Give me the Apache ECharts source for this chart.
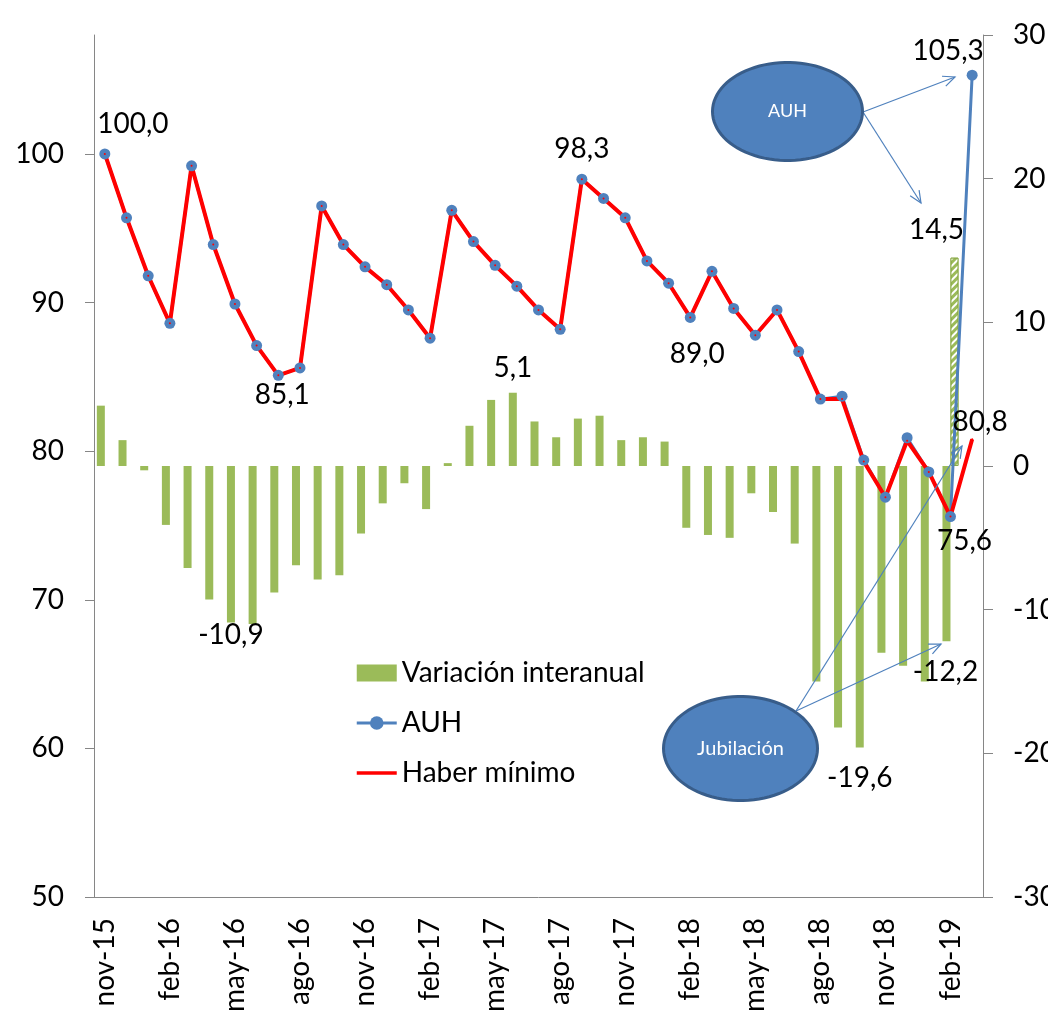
<!DOCTYPE html>
<html>
<head>
<meta charset="utf-8">
<script src="https://cdn.jsdelivr.net/npm/echarts@6/dist/echarts.min.js"></script>
<style>
html, body { margin: 0; padding: 0; background: #fff; }
#chart { width: 1048px; height: 1015px; }
</style>
</head>
<body>
<div id="chart"></div>
<script>
const categories = [
    'nov-15', 'dic-15',
    'ene-16', 'feb-16', 'mar-16', 'abr-16', 'may-16', 'jun-16', 'jul-16', 'ago-16', 'sep-16', 'oct-16', 'nov-16', 'dic-16',
    'ene-17', 'feb-17', 'mar-17', 'abr-17', 'may-17', 'jun-17', 'jul-17', 'ago-17', 'sep-17', 'oct-17', 'nov-17', 'dic-17',
    'ene-18', 'feb-18', 'mar-18', 'abr-18', 'may-18', 'jun-18', 'jul-18', 'ago-18', 'sep-18', 'oct-18', 'nov-18', 'dic-18',
    'ene-19', 'feb-19', 'mar-19'
];

const auh = [
    100.0, 95.7,
    91.8, 88.6, 99.2, 93.9, 89.9, 87.1, 85.1, 85.6, 96.5, 93.9, 92.4, 91.2,
    89.5, 87.6, 96.2, 94.1, 92.5, 91.1, 89.5, 88.2, 98.3, 97.0, 95.7, 92.8,
    91.3, 89.0, 92.1, 89.6, 87.8, 89.5, 86.7, 83.5, 83.7, 79.4, 76.9, 80.9,
    78.6, 75.6, 105.3
];

const haberMinimo = [
    100.0, 95.7,
    91.8, 88.6, 99.2, 93.9, 89.9, 87.1, 85.1, 85.6, 96.5, 93.9, 92.4, 91.2,
    89.5, 87.6, 96.2, 94.1, 92.5, 91.1, 89.5, 88.2, 98.3, 97.0, 95.7, 92.8,
    91.3, 89.0, 92.1, 89.6, 87.8, 89.5, 86.7, 83.5, 83.5, 79.3, 76.9, 80.7,
    78.6, 75.6, 80.8
];

// variación interanual (eje derecho)
const variacion = [
    4.2, 1.8,
    -0.3, -4.1, -7.1, -9.3, -10.9, -11.0, -8.8, -6.9, -7.9, -7.6, -4.7, -2.6,
    -1.2, -3.0, 0.2, 2.8, 4.6, 5.1, 3.1, 2.0, 3.3, 3.5, 1.8, 2.0,
    1.7, -4.3, -4.8, -5.0, -1.9, -3.2, -5.4, -15.0, -18.2, -19.6, -13.0, -13.9,
    -15.0, -12.2, null
];

// barra rayada (variación AUH)
const variacionAuh = categories.map(() => null);
variacionAuh[39] = 14.5;

const leftTicks = [50, 60, 70, 80, 90, 100];

const FONT = 'Lato';
const FS = 28;

function fmt(v) {
    return v.toFixed(1).replace('.', ',');
}

// etiquetas de datos: indice -> [posicion, offset]
const haberLabels = { 0: ['top', [28, -10]], 8: ['bottom', [4, 0]], 22: ['top', [0, -10]], 27: ['bottom', [7, 17]], 39: ['bottom', [14, 4]], 40: ['top', [8, 3]] };
const auhLabels = { 40: ['top', [-24, 0]] };
const variacionLabels = { 6: ['bottom', [0, -7]], 19: ['top', [0, -6]], 35: ['bottom', [0, 11]], 39: ['bottom', [-1, 12]] };
const variacionAuhLabels = { 39: ['top', [-18, -9]] };

function withLabels(arr, labels) {
    return arr.map((v, i) => {
        if (!labels[i] || v == null) return v;
        return {
            value: v,
            label: {
                show: true,
                position: labels[i][0],
                offset: labels[i][1],
                formatter: (p) => fmt(p.value),
                fontFamily: FONT,
                fontSize: FS,
                color: '#000'
            }
        };
    });
}

function ellipse(cx, cy, rx, ry) {
    const pts = [];
    for (let k = 0; k < 90; k++) {
        const a = k / 90 * Math.PI * 2;
        pts.push([cx + rx * Math.cos(a), cy + ry * Math.sin(a)]);
    }
    return pts;
}

function arrow(x1, y1, x2, y2) {
    const a = Math.atan2(y2 - y1, x2 - x1);
    const L = 13, s = 0.42;
    const style = { stroke: '#4F81BD', lineWidth: 1.2, fill: null };
    return [
        { type: 'line', shape: { x1, y1, x2, y2 }, style, z: 10 },
        {
            type: 'polyline', z: 10, style,
            shape: { points: [
                [x2 - L * Math.cos(a - s), y2 - L * Math.sin(a - s)],
                [x2, y2],
                [x2 - L * Math.cos(a + s), y2 - L * Math.sin(a + s)]
            ] }
        }
    ];
}

function bubble(cx, cy, rx, ry, text, fs) {
    return [
        { type: 'polygon', z: 11, shape: { points: ellipse(cx, cy, rx, ry) }, style: { fill: '#4F81BD', stroke: '#385D8A', lineWidth: 3 } },
        { type: 'text', z: 12, x: cx, y: cy, style: { text, fill: '#fff', font: fs + 'px ' + FONT, align: 'center', verticalAlign: 'middle' } }
    ];
}

const axisGray = '#868686';

const option = {
    animation: false,
    backgroundColor: '#fff',
    grid: { left: 94, right: 65, top: 35, bottom: 118, outerBoundsMode: 'none', containLabel: false },
    legend: {
        orient: 'vertical',
        left: 350,
        top: 653,
        itemWidth: 40,
        itemHeight: 17,
        itemGap: 20,
        data: [
            { name: 'Variación interanual', icon: 'rect' },
            { name: 'AUH', lineStyle: { width: 3 } },
            { name: 'Haber mínimo', lineStyle: { width: 3.5 }, itemStyle: { opacity: 0 } }
        ],
        textStyle: { fontFamily: FONT, fontSize: FS, color: '#000', lineHeight: 30 }
    },
    xAxis: {
        type: 'category',
        data: categories,
        axisLine: { onZero: false, lineStyle: { color: axisGray, width: 1 } },
        axisTick: { interval: 2, length: 9, lineStyle: { color: axisGray } },
        axisLabel: { interval: 2, rotate: 90, margin: 21, fontFamily: FONT, fontSize: FS, color: '#000' },
        splitLine: { show: false }
    },
    yAxis: [
        {
            type: 'value',
            min: 50,
            max: 108,
            interval: 10,
            axisLine: { show: true, lineStyle: { color: axisGray } },
            axisTick: { show: true, length: 9, customValues: leftTicks, lineStyle: { color: axisGray } },
            axisLabel: { margin: 30, customValues: leftTicks, fontFamily: FONT, fontSize: FS, color: '#000' },
            splitLine: { show: false }
        },
        {
            type: 'value',
            position: 'right',
            min: -30,
            max: 30,
            interval: 10,
            axisLine: { show: true, lineStyle: { color: axisGray } },
            axisTick: { show: true, length: 10, lineStyle: { color: axisGray } },
            axisLabel: { margin: 30, fontFamily: FONT, fontSize: FS, color: '#000' },
            splitLine: { show: false }
        }
    ],
    series: [
        {
            name: 'Variación interanual',
            type: 'bar',
            yAxisIndex: 1,
            barWidth: 8,
            barGap: '0%',
            itemStyle: { color: '#9BBB59' },
            data: withLabels(variacion, variacionLabels)
        },
        {
            name: 'Variación AUH',
            type: 'bar',
            yAxisIndex: 1,
            barWidth: 8,
            barGap: '0%',
            itemStyle: {
                color: '#9BBB59',
                borderColor: '#8AAA48',
                borderWidth: 1,
                decal: { symbol: 'rect', symbolSize: 1, dashArrayX: [[1, 0]], dashArrayY: [2, 3], rotation: -Math.PI / 4, color: '#ffffff' }
            },
            data: withLabels(variacionAuh, variacionAuhLabels)
        },
        {
            name: 'AUH',
            type: 'line',
            yAxisIndex: 0,
            symbol: 'circle',
            symbolSize: 11,
            itemStyle: { color: '#4F81BD' },
            lineStyle: { color: '#4F81BD', width: 3 },
            data: withLabels(auh, auhLabels)
        },
        {
            name: 'Haber mínimo',
            type: 'line',
            yAxisIndex: 0,
            symbol: 'circle',
            symbolSize: 2,
            itemStyle: { color: '#FF0000' },
            lineStyle: { color: '#FF0000', width: 4 },
            data: withLabels(haberMinimo, haberLabels)
        }
    ],
    graphic: [].concat(
        arrow(863, 112, 955, 77),
        arrow(863, 112, 921, 203),
        arrow(796, 711, 962, 446),
        arrow(796, 711, 941, 644),
        bubble(787.5, 111.5, 75, 49, 'AUH', 18),
        bubble(740.5, 748.5, 77, 52, 'Jubilación', 20)
    )
};

const chart = echarts.init(document.getElementById('chart'));
chart.setOption(option);
</script>
</body>
</html>
